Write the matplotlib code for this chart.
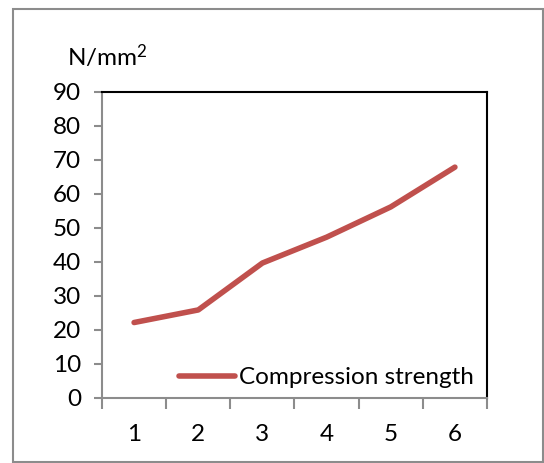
import matplotlib.pyplot as plt
from matplotlib.patches import Rectangle

# data
categories = ['1', '2', '3', '4', '5', '6']
strength = [22.2, 25.9, 39.7, 47.3, 56.2, 67.9]
yticks = [0, 10, 20, 30, 40, 50, 60, 70, 80, 90]

plt.rcParams['font.family'] = ['Lato', 'DejaVu Sans']
plt.rcParams['mathtext.default'] = 'regular'
fs = 17.5

fig = plt.figure(figsize=(5.44, 4.63), dpi=100)
# outer chart border
fig.patches.append(Rectangle((13 / 544, 1 - 462 / 463), 530 / 544, 453 / 463,
                             transform=fig.transFigure, fill=False,
                             edgecolor='#8c8c8c', lw=1.5))

ax = fig.add_axes([102 / 544, 1 - 398 / 463, 385 / 544, 306 / 463])
x = range(len(categories))
ax.plot(x, strength, color='#C0504D', lw=4, solid_capstyle='round',
        label='Compression strength')

ax.set_xlim(-0.5, len(categories) - 0.5)
ax.set_ylim(0, 90)
ax.set_yticks(yticks)
ax.set_xticks(list(x))
ax.set_xticklabels(categories)
ax.set_xticks([i - 0.5 for i in range(len(categories) + 1)], minor=True)
ax.tick_params(axis='x', which='major', length=0, pad=19, labelsize=fs)
ax.tick_params(axis='x', which='minor', length=8, width=1.5, color='#8c8c8c')
ax.tick_params(axis='y', length=6, width=1.5, color='#8c8c8c', labelsize=fs, pad=9)

for s in ['left', 'bottom']:
    ax.spines[s].set_color('#8c8c8c')
    ax.spines[s].set_linewidth(1.5)
for s in ['top', 'right']:
    ax.spines[s].set_color('black')
    ax.spines[s].set_linewidth(1.5)

fig.text(67 / 544, 1 - 56 / 463, 'N/mm$^2$', fontsize=fs, va='center')

ax.legend(loc='lower right', frameon=False, fontsize=fs, handlelength=2.3,
          handletextpad=0.15, borderaxespad=0.0, bbox_to_anchor=(0.99, 0.0))

fig.savefig('out.png', dpi=100)
